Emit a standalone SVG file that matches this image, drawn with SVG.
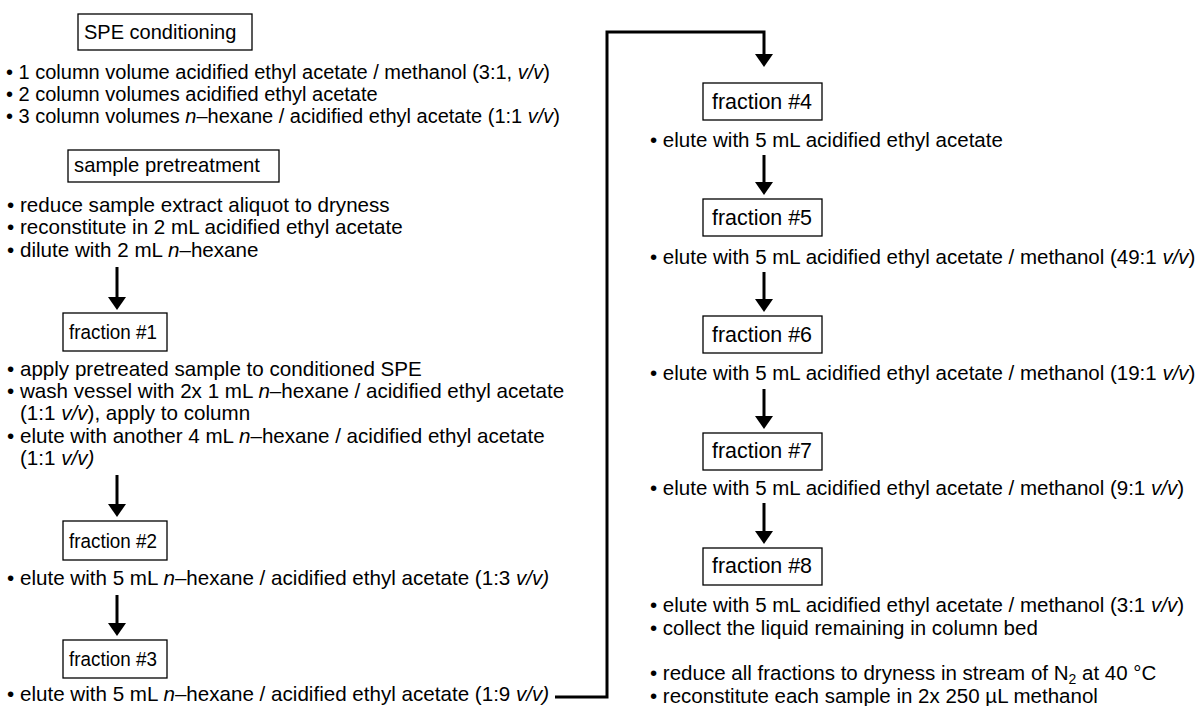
<svg xmlns="http://www.w3.org/2000/svg" width="1195" height="706" viewBox="0 0 1195 706">
<style>
text{font-family:"Liberation Sans",Arial,sans-serif;font-size:20.6px;fill:#000}
.s{font-size:20px}
.r{font-size:20.5px}
.i{font-style:italic}
.fl{font-size:20.5px}
.fr{font-size:21.5px}
.box rect{fill:#fff;stroke:#000;stroke-width:1.3}
.conn line,.conn polyline{stroke:#000;stroke-width:3;fill:none}
</style>
<defs>
<marker id="ah" markerUnits="userSpaceOnUse" markerWidth="13" markerHeight="18" refX="1" refY="9" orient="auto" viewBox="0 0 13 18">
<path d="M0,0 L13,9 L0,18 Z" fill="#000"/>
</marker>
</defs>
<rect width="1195" height="706" fill="#fff"/>
<g class="conn" id="connectors">
<line x1="117" y1="267" x2="117" y2="298" marker-end="url(#ah)"/>
<line x1="117" y1="475" x2="117" y2="505" marker-end="url(#ah)"/>
<line x1="117" y1="595" x2="117" y2="624" marker-end="url(#ah)"/>
<polyline points="555,697 607,697 607,32 764,32 764,55" marker-end="url(#ah)"/>
<line x1="764" y1="155" x2="764" y2="183" marker-end="url(#ah)"/>
<line x1="764" y1="272" x2="764" y2="300" marker-end="url(#ah)"/>
<line x1="764" y1="389" x2="764" y2="417" marker-end="url(#ah)"/>
<line x1="764" y1="503" x2="764" y2="532" marker-end="url(#ah)"/>
</g>
<g id="n-spe" class="box"><rect x="78" y="14" width="174" height="36"/><text class="s" x="84" y="39">SPE conditioning</text></g>
<g id="t-spe" class="s"><text class="s" x="6" y="79">• 1 column volume acidified ethyl acetate / methanol (3:1, <tspan class="i">v/v</tspan>)</text>
<text class="s" x="6" y="101">• 2 column volumes acidified ethyl acetate</text>
<text class="s" x="6" y="123">• 3 column volumes <tspan class="i">n</tspan>–hexane / acidified ethyl acetate (1:1 <tspan class="i">v/v</tspan>)</text></g>
<g id="n-pre" class="box"><rect x="68" y="150" width="211" height="32"/><text x="74" y="172" style="font-size:20.3px">sample pretreatment</text></g>
<g id="t-pre"><text x="7" y="212">• reduce sample extract aliquot to dryness</text>
<text x="7" y="234">• reconstitute in 2 mL acidified ethyl acetate</text>
<text x="7" y="257">• dilute with 2 mL <tspan class="i">n</tspan>–hexane</text></g>
<g id="n-f1" class="box"><rect x="63" y="313" width="104" height="38"/><text class="fl" x="69" y="339" textLength="88" lengthAdjust="spacingAndGlyphs">fraction #1</text></g>
<g id="t-f1"><text x="7" y="376">• apply pretreated sample to conditioned SPE</text>
<text x="7" y="398">• wash vessel with 2x 1 mL <tspan class="i">n</tspan>–hexane / acidified ethyl acetate</text>
<text x="20" y="420">(1:1 <tspan class="i">v/v</tspan>), apply to column</text>
<text x="7" y="443">• elute with another 4 mL <tspan class="i">n</tspan>–hexane / acidified ethyl acetate</text>
<text x="20" y="465">(1:1 <tspan class="i">v/v)</tspan></text></g>
<g id="n-f2" class="box"><rect x="63" y="521" width="104" height="39"/><text class="fl" x="69" y="548" textLength="88" lengthAdjust="spacingAndGlyphs">fraction #2</text></g>
<g id="t-f2"><text x="7" y="585">• elute with 5 mL <tspan class="i">n</tspan>–hexane / acidified ethyl acetate (1:3 <tspan class="i">v/v)</tspan></text></g>
<g id="n-f3" class="box"><rect x="63" y="640" width="104" height="38"/><text class="fl" x="69" y="666" textLength="88" lengthAdjust="spacingAndGlyphs">fraction #3</text></g>
<g id="t-f3"><text x="7" y="701">• elute with 5 mL <tspan class="i">n</tspan>–hexane / acidified ethyl acetate (1:9 <tspan class="i">v/v)</tspan></text></g>
<g id="n-f4" class="box"><rect x="703" y="83" width="119" height="37"/><text class="fr" x="712" y="109" textLength="100" lengthAdjust="spacingAndGlyphs">fraction #4</text></g>
<g id="t-f4"><text class="r" x="650" y="147">• elute with 5 mL acidified ethyl acetate</text></g>
<g id="n-f5" class="box"><rect x="703" y="199" width="119" height="37"/><text class="fr" x="712" y="225" textLength="100" lengthAdjust="spacingAndGlyphs">fraction #5</text></g>
<g id="t-f5"><text class="r" x="650" y="264">• elute with 5 mL acidified ethyl acetate / methanol (49:1 <tspan class="i">v/v</tspan>)</text></g>
<g id="n-f6" class="box"><rect x="703" y="316" width="119" height="37"/><text class="fr" x="712" y="342" textLength="100" lengthAdjust="spacingAndGlyphs">fraction #6</text></g>
<g id="t-f6"><text class="r" x="650" y="380">• elute with 5 mL acidified ethyl acetate / methanol (19:1 <tspan class="i">v/v</tspan>)</text></g>
<g id="n-f7" class="box"><rect x="703" y="433" width="119" height="37"/><text class="fr" x="712" y="458" textLength="100" lengthAdjust="spacingAndGlyphs">fraction #7</text></g>
<g id="t-f7"><text class="r" x="650" y="495">• elute with 5 mL acidified ethyl acetate / methanol (9:1 <tspan class="i">v/v</tspan>)</text></g>
<g id="n-f8" class="box"><rect x="703" y="548" width="119" height="37"/><text class="fr" x="712" y="573" textLength="100" lengthAdjust="spacingAndGlyphs">fraction #8</text></g>
<g id="t-f8"><text class="r" x="650" y="612">• elute with 5 mL acidified ethyl acetate / methanol (3:1 <tspan class="i">v/v</tspan>)</text>
<text class="r" x="650" y="635">• collect the liquid remaining in column bed</text></g>
<g id="t-final"><text class="r" x="650" y="680">• reduce all fractions to dryness in stream of N<tspan font-size="14" dy="4">2</tspan><tspan dy="-4"> at 40 °C</tspan></text>
<text class="r" x="650" y="703">• reconstitute each sample in 2x 250 µL methanol</text></g>
</svg>
